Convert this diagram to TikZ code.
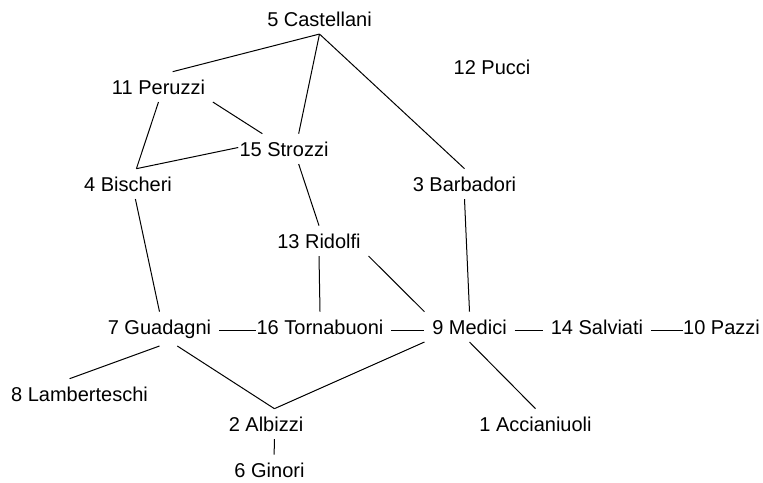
\documentclass[tikz,border=0pt]{standalone}
\usepackage{fontspec}
\setmainfont{Liberation Sans}
\usepackage{tikz}

\begin{document}
\begin{tikzpicture}[x=0.75pt, y=-0.75pt, line width=0.75pt,
	fam/.style={anchor=base, inner sep=5.5pt, font=\fontsize{15pt}{18pt}\selectfont}]
	\useasboundingbox (0,0) rectangle (763,482);
	\node (5) at (319.5,26) [fam] {5 Castellani};
	\node (12) at (492,74) [fam] {12 Pucci};
	\node (11) at (158.5,94) [fam] {11 Peruzzi};
	\node (15) at (284,156) [fam] {15 Strozzi};
		\node (4) at (128,191) [fam] {4 Bischeri};
		\node (3) at (464.5,191) [fam] {3 Barbadori};
		\node (13) at (319,248) [fam] {13 Ridolfi};
			\node (7) at (159.5,334) [fam] {7 Guadagni};
			\node (16) at (320,334) [fam] {16 Tornabuoni};
			\node (9) at (469.5,334) [fam] {9 Medici};
			\node (14) at (597,334) [fam] {14 Salviati};
			\node (10) at (721.5,334) [fam] {10 Pazzi};
				\node (8) at (79.5,401) [fam] {8 Lamberteschi};
				\node (2) at (266,431) [fam] {2 Albizzi};
				\node (1) at (535.5,431) [fam] {1 Accianiuoli};
				\node (6) at (269.5,477) [fam] {6 Ginori};
	\draw[-] (5.south) to (11.47);
	\draw[-] (5.south) to (15.46);
	\draw[-] (5.south) to (3.north);
	\draw[-] (11.south) to (4.61);
	\draw[-] (11.south east) to (15.145);
	\draw[-, shorten >=-5pt] (4.61) to (15.west);
	\draw[-] (4.-64) to (7.north);
	\draw[-] (15.-46) to (13.north);
	\draw[-] (13.south) to (16.north);
	\draw[-] (13.south east) to (9.north west);
	\draw[-] (3.south) to (9.north);
	\draw[-, shorten >=-5.5pt] (7.mid east) to (16.mid west);
	\draw[-] (16.mid east) to (9.mid west);
	\draw[-] (9.mid east) to (14.mid west);
	\draw[-, shorten >=-5.5pt] (14.mid east) to (10.mid west);
	\draw[-] (7.south) to (8.123);
	\draw[-] (7.-44) to (2.61);
	\draw[-] (9.south west) to (2.61);
	\draw[-] (9.south) to (1.north);
	\draw[-] (2.-61) to (6.73);
\end{tikzpicture}
\end{document}
